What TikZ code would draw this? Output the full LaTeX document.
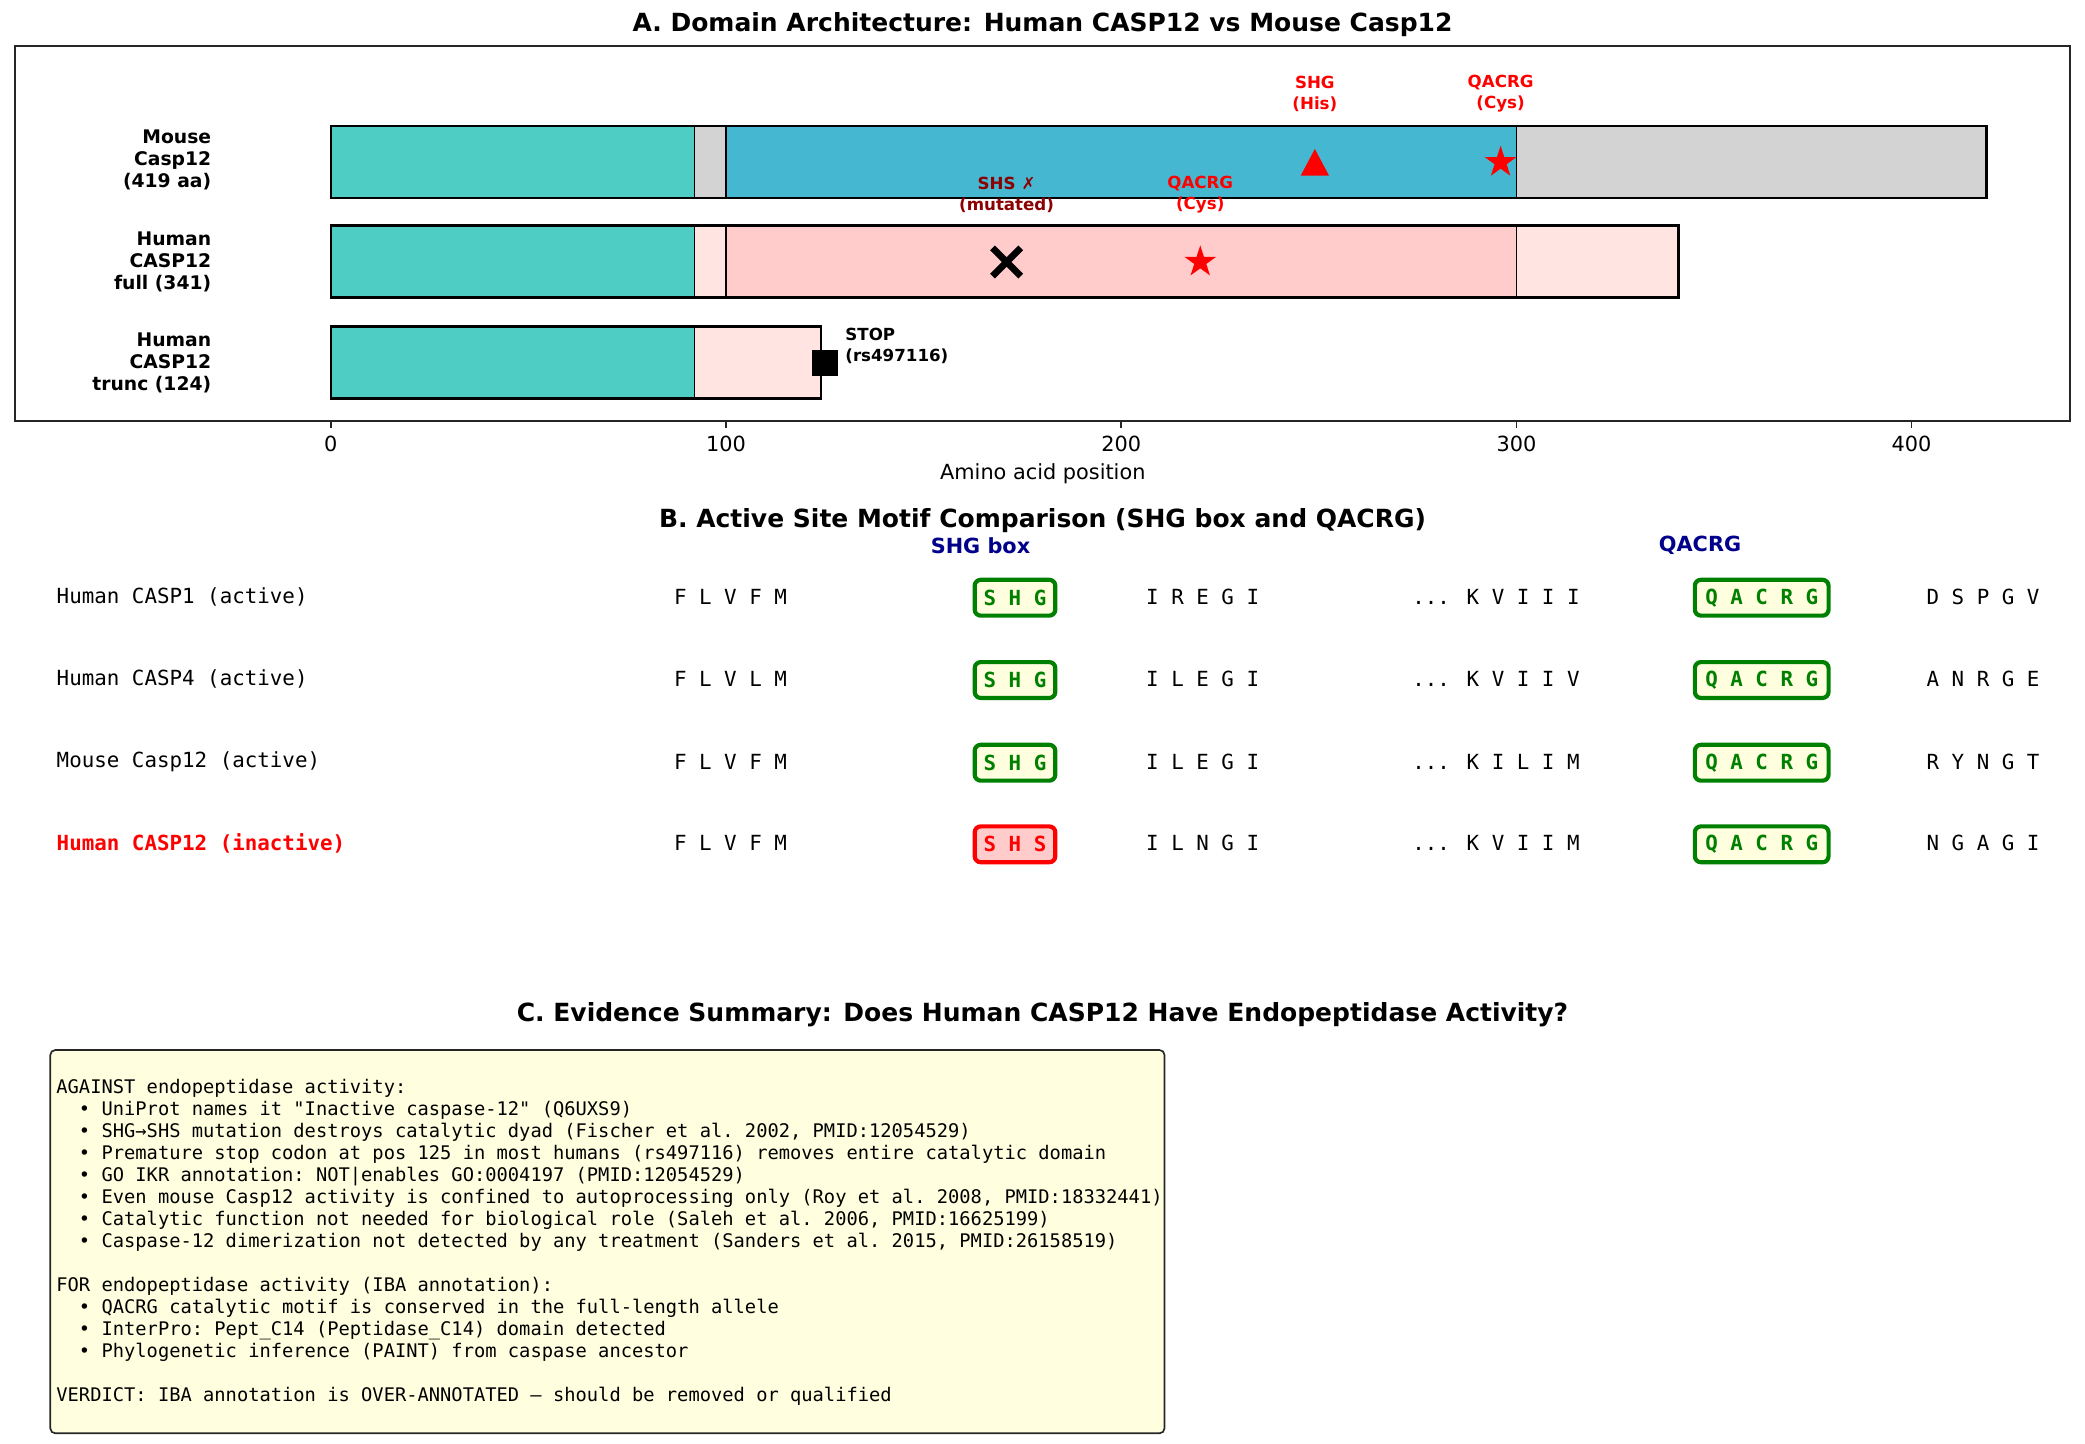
\documentclass[tikz,border=0pt]{standalone}
\usepackage{fontspec}
\setmainfont{DejaVu Sans}
\newfontfamily\monofont{DejaVu Sans Mono}
\usetikzlibrary{shapes.geometric}
\usetikzlibrary{shapes.misc}
\definecolor{mcard}{HTML}{4ECDC4}
\definecolor{mlink}{HTML}{D3D3D3}
\definecolor{mcat}{HTML}{45B7D1}
\definecolor{hcat}{HTML}{FFCCCB}
\definecolor{hrose}{HTML}{FFE4E1}
\definecolor{okfill}{HTML}{FFFFE0}
\definecolor{okgreen}{HTML}{008000}
\definecolor{mnavy}{HTML}{00008B}
\definecolor{mdred}{HTML}{8B0000}
\tikzset{every node/.style = {inner sep = 0}}
\tikzset{seg/.style = {draw=black, line width=0.8pt}}
\tikzset{barframe/.style = {draw=black, line width=1.2pt}}
\tikzset{axframe/.style = {draw=black!85, line width=0.8pt}}
\tikzset{paneltitle/.style = {font=\fontsize{12}{14}\selectfont\bfseries}}
\tikzset{ticklab/.style = {font=\fontsize{10}{12}\selectfont}}
\tikzset{rowlab/.style = {anchor=east, align=right, font=\fontsize{9}{10.56}\selectfont\bfseries}}
\tikzset{sitelab/.style = {align=center, text=red, font=\fontsize{8}{10.08}\selectfont\bfseries}}
\tikzset{starm/.style = {star, star points=5, star point ratio=2.618, fill=red, minimum size=15.9pt}}
\tikzset{seqlab/.style = {anchor=west, font=\monofont\fontsize{10}{12}\selectfont}}
\tikzset{seqtxt/.style = {font=\monofont\fontsize{10}{12}\selectfont}}
\tikzset{colhead/.style = {text=mnavy, font=\fontsize{10}{12}\selectfont\bfseries}}
\tikzset{motif/.style = {rounded corners=2.9pt, line width=2pt, inner xsep=4.3pt, minimum height=17.2pt,
                         font=\monofont\fontsize{10}{12}\selectfont\bfseries}}
\tikzset{motifok/.style = {motif, draw=okgreen, fill=okfill, text=okgreen}}
\tikzset{motifbad/.style = {motif, draw=red, fill=hcat, text=red}}
\tikzset{evbox/.style = {draw=black!85, fill=okfill, line width=0.8pt, rounded corners=2.4pt}}
\tikzset{evtext/.style = {anchor=north west, align=left, font=\monofont\fontsize{9}{10.58}\selectfont\frenchspacing}}
\newcommand{\evbul}{\phantom{xx}•\ }

\begin{document}
\begin{tikzpicture}[x=0.48pt, y=-0.48pt]
  \useasboundingbox (0,0) rectangle (2085,1443);

  % A
  \node[paneltitle] (titleA) at (1042.5,25) {A. Domain Architecture: Human CASP12 vs Mouse Casp12};
  \draw[axframe] (14.7,45.7) rectangle (2069.7,421);

  \node[rowlab] (labmouse) at (211.6,160) {Mouse\\Casp12\\(419 aa)};
  \node[rowlab] (labfull) at (211.6,261.7) {Human\\CASP12\\full (341)};
  \node[rowlab] (labtrunc) at (211.6,362.7) {Human\\CASP12\\trunc (124)};

  \begin{scope}[shift={(330.8,0)}, xscale=3.952]
    \draw[seg, fill=mcard] (0,126) rectangle (92,198);
    \draw[seg, fill=mlink] (92,126) rectangle (100,198);
    \draw[seg, fill=mcat] (100,126) rectangle (300,198);
    \draw[seg, fill=mlink] (300,126) rectangle (419,198);
    \draw[barframe] (0,126) rectangle (419,198);

    \draw[seg, fill=mcard] (0,225.7) rectangle (92,297.7);
    \draw[seg, fill=hrose] (92,225.7) rectangle (100,297.7);
    \draw[seg, fill=hcat] (100,225.7) rectangle (300,297.7);
    \draw[seg, fill=hrose] (300,225.7) rectangle (341,297.7);
    \draw[barframe] (0,225.7) rectangle (341,297.7);

    \draw[seg, fill=mcard] (0,326.7) rectangle (92,398.7);
    \draw[seg, fill=hrose] (92,326.7) rectangle (124,398.7);
    \draw[barframe] (0,326.7) rectangle (124,398.7);

    \draw[axframe] (0,421) -- (0,428.3);
    \draw[axframe] (100,421) -- (100,428.3);
    \draw[axframe] (200,421) -- (200,428.3);
    \draw[axframe] (300,421) -- (300,428.3);
    \draw[axframe] (400,421) -- (400,428.3);
    \node[ticklab] (t0) at (0,443.7) {0};
    \node[ticklab] (t100) at (100,443.7) {100};
    \node[ticklab] (t200) at (200,443.7) {200};
    \node[ticklab] (t300) at (300,443.7) {300};
    \node[ticklab] (t400) at (400,443.7) {400};

    \coordinate (shgpos) at (249,162.3);
    \node[sitelab] (shglab) at (249,93.5) {SHG\\(His)};
    \node[starm] (mstar) at (296,162.3) {};
    \node[sitelab] (mqlab) at (296,93.5) {QACRG\\(Cys)};

    \node[cross out, draw=black, line width=3.2pt, minimum size=10.4pt] (hcross) at (171,262) {};
    \node[sitelab, text=mdred] (shslab) at (171,194.5) {SHS \textmd{✗}\\(mutated)};
    \node[starm] (hstar) at (220,262) {};
    \node[sitelab] (hqlab) at (220,194.5) {QACRG\\(Cys)};

    \node[fill=black, minimum size=12.5pt] (stopm) at (125,363) {};
    \node[sitelab, text=black, anchor=west, align=left] (stoplab) at (130.1,346) {STOP\\(rs497116)};
  \end{scope}
  \fill[red] ([yshift=6.4pt]shgpos) -- ([xshift=-6.8pt, yshift=-6.4pt]shgpos) -- ([xshift=6.8pt, yshift=-6.4pt]shgpos) -- cycle;

  \node[ticklab] (xlab) at (1042.8,473.5) {Amino acid position};

  % B
  \node[paneltitle] (titleB) at (1042.5,520.5) {B. Active Site Motif Comparison (SHG box and QACRG)};
  \node[colhead] (hshg) at (980.5,545.7) {SHG box};
  \node[colhead] (hqacrg) at (1700,545.7) {QACRG};

  \node[seqlab] (r1) at (56.3,596.7) {Human CASP1 (active)};
  \node[seqtxt] (r1a) at (730.5,596.7) {F L V F M};
  \node[motifok] (r1b) at (1015,597.7) {S H G};
  \node[seqtxt] (r1c) at (1202.6,596.7) {I R E G I};
  \node[seqtxt] (r1d) at (1496,596.7) {... K V I I I};
  \node[motifok, inner xsep=5pt] (r1e) at (1761.7,597.7) {Q A C R G};
  \node[seqtxt] (r1f) at (1983,596.7) {D S P G V};

  \node[seqlab] (r2) at (56.3,679) {Human CASP4 (active)};
  \node[seqtxt] (r2a) at (730.5,679) {F L V L M};
  \node[motifok] (r2b) at (1015,680) {S H G};
  \node[seqtxt] (r2c) at (1202.6,679) {I L E G I};
  \node[seqtxt] (r2d) at (1496,679) {... K V I I V};
  \node[motifok, inner xsep=5pt] (r2e) at (1761.7,680) {Q A C R G};
  \node[seqtxt] (r2f) at (1983,679) {A N R G E};

  \node[seqlab] (r3) at (56.3,761.7) {Mouse Casp12 (active)};
  \node[seqtxt] (r3a) at (730.5,761.7) {F L V F M};
  \node[motifok] (r3b) at (1015,762.7) {S H G};
  \node[seqtxt] (r3c) at (1202.6,761.7) {I L E G I};
  \node[seqtxt] (r3d) at (1496,761.7) {... K I L I M};
  \node[motifok, inner xsep=5pt] (r3e) at (1761.7,762.7) {Q A C R G};
  \node[seqtxt] (r3f) at (1983,761.7) {R Y N G T};

  \node[seqlab, text=red, font=\monofont\fontsize{10}{12}\selectfont\bfseries] (r4) at (56.3,843.3) {Human CASP12 (inactive)};
  \node[seqtxt] (r4a) at (730.5,843.3) {F L V F M};
  \node[motifbad] (r4b) at (1015,844.3) {S H S};
  \node[seqtxt] (r4c) at (1202.6,843.3) {I L N G I};
  \node[seqtxt] (r4d) at (1496,843.3) {... K V I I M};
  \node[motifok, inner xsep=5pt] (r4e) at (1761.7,844.3) {Q A C R G};
  \node[seqtxt] (r4f) at (1983,843.3) {N G A G I};

  % C
  \node[paneltitle] (titleC) at (1042.5,1014.5) {C. Evidence Summary: Does Human CASP12 Have Endopeptidase Activity?};
  \draw[evbox] (50.3,1050) rectangle (1164.5,1433.3);
  \node[evtext] (evid) at (56,1078.5) {AGAINST endopeptidase activity:\\
    \evbul UniProt names it "Inactive caspase-12" (Q6UXS9)\\
    \evbul SHG→SHS mutation destroys catalytic dyad (Fischer et al. 2002, PMID:12054529)\\
    \evbul Premature stop codon at pos 125 in most humans (rs497116) removes entire catalytic domain\\
    \evbul GO IKR annotation: NOT|enables GO:0004197 (PMID:12054529)\\
    \evbul Even mouse Casp12 activity is confined to autoprocessing only (Roy et al. 2008, PMID:18332441)\\
    \evbul Catalytic function not needed for biological role (Saleh et al. 2006, PMID:16625199)\\
    \evbul Caspase-12 dimerization not detected by any treatment (Sanders et al. 2015, PMID:26158519)\\[10.58pt]
    FOR endopeptidase activity (IBA annotation):\\
    \evbul QACRG catalytic motif is conserved in the full-length allele\\
    \evbul InterPro: Pept\_C14 (Peptidase\_C14) domain detected\\
    \evbul Phylogenetic inference (PAINT) from caspase ancestor\\[10.58pt]
    VERDICT: IBA annotation is OVER-ANNOTATED — should be removed or qualified};
\end{tikzpicture}
\end{document}
